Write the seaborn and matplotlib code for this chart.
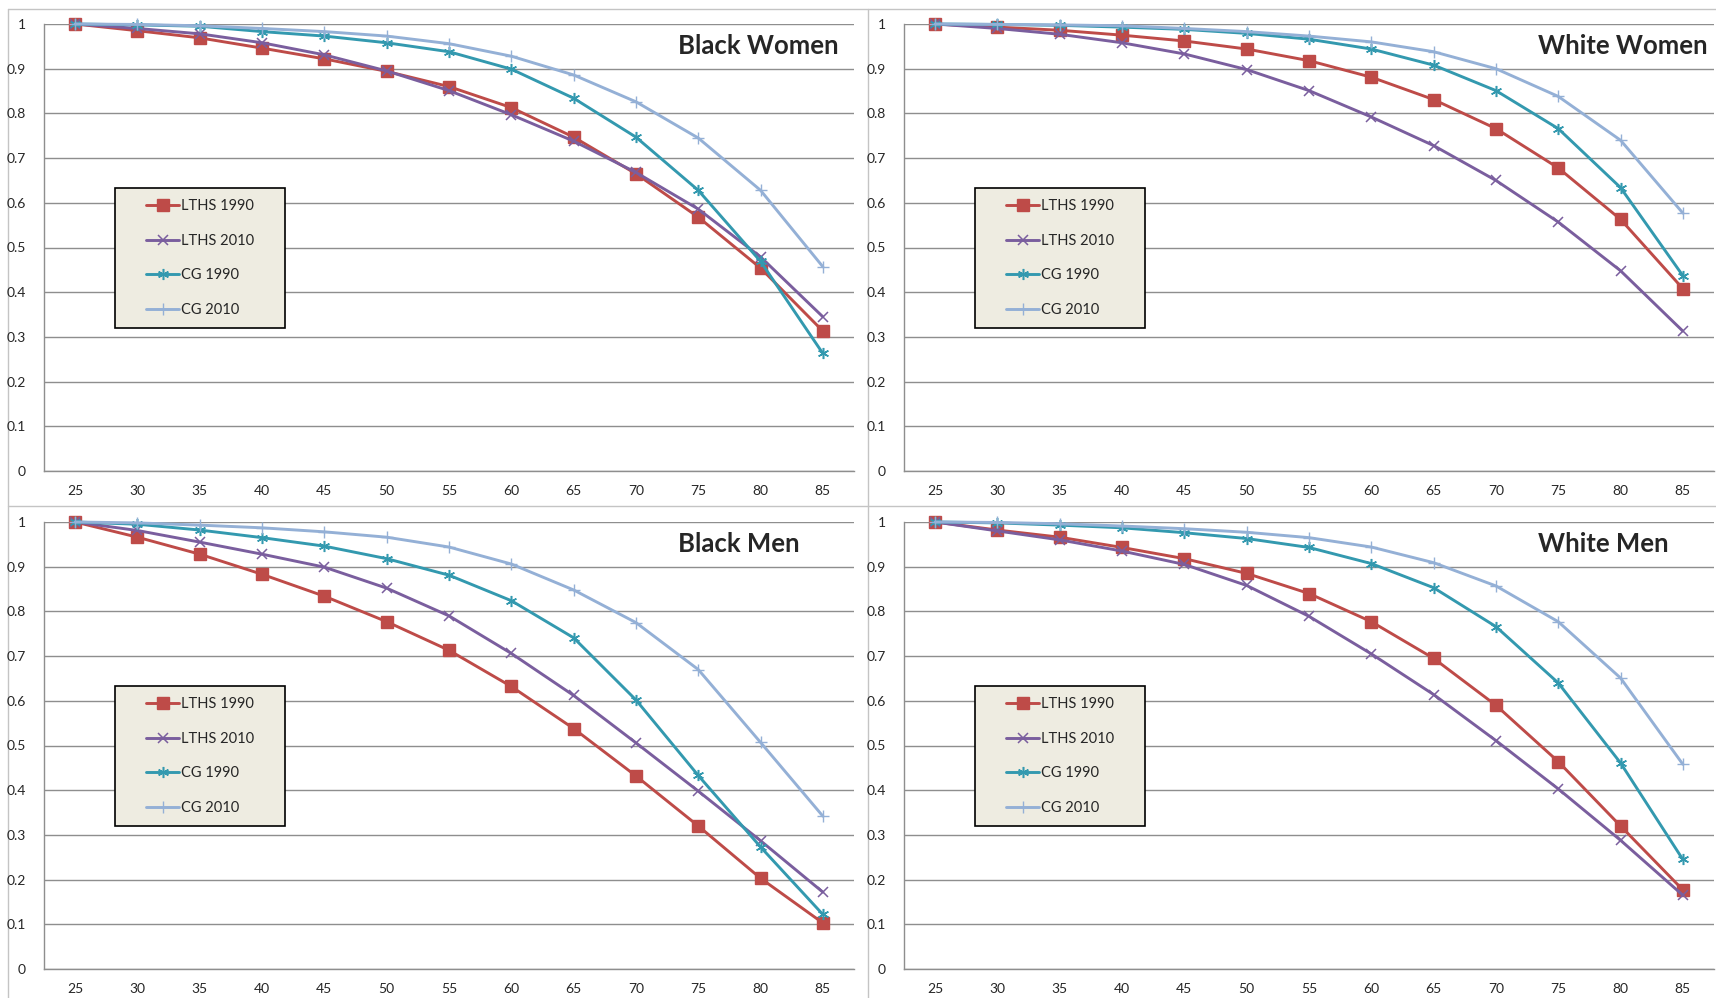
import numpy as np
import pandas as pd
import matplotlib
matplotlib.use("Agg")
import matplotlib.pyplot as plt
from matplotlib.patches import Rectangle
import seaborn as sns

# ages on the category axis
ages = [25, 30, 35, 40, 45, 50, 55, 60, 65, 70, 75, 80, 85]
series_names = ["LTHS 1990", "LTHS 2010", "CG 1990", "CG 2010"]
panel_titles = ["Black Women", "White Women", "Black Men", "White Men"]
y_ticks = [0, 0.1, 0.2, 0.3, 0.4, 0.5, 0.6, 0.7, 0.8, 0.9, 1.0]
y_tick_labels = ["0", "0.1", "0.2", "0.3", "0.4", "0.5", "0.6", "0.7", "0.8", "0.9", "1"]

# Black Women
bw_lths_1990 = [1.0, 0.985, 0.969, 0.946, 0.922, 0.894, 0.860, 0.813, 0.747, 0.665, 0.568, 0.454, 0.313]
bw_lths_2010 = [1.0, 0.990, 0.978, 0.958, 0.931, 0.895, 0.851, 0.797, 0.738, 0.668, 0.586, 0.479, 0.345]
bw_cg_1990 = [1.0, 0.998, 0.995, 0.983, 0.973, 0.958, 0.938, 0.899, 0.834, 0.747, 0.628, 0.469, 0.263]
bw_cg_2010 = [1.0, 0.999, 0.996, 0.990, 0.983, 0.973, 0.956, 0.928, 0.886, 0.826, 0.745, 0.628, 0.457]

# White Women
ww_lths_1990 = [1.0, 0.993, 0.986, 0.975, 0.962, 0.944, 0.918, 0.881, 0.831, 0.766, 0.678, 0.563, 0.408]
ww_lths_2010 = [1.0, 0.990, 0.977, 0.958, 0.933, 0.898, 0.851, 0.792, 0.728, 0.650, 0.557, 0.448, 0.313]
ww_cg_1990 = [1.0, 0.999, 0.997, 0.993, 0.988, 0.979, 0.966, 0.944, 0.908, 0.851, 0.766, 0.634, 0.437]
ww_cg_2010 = [1.0, 0.999, 0.998, 0.996, 0.990, 0.983, 0.973, 0.960, 0.938, 0.900, 0.838, 0.740, 0.577]

# Black Men
bm_lths_1990 = [1.0, 0.966, 0.928, 0.883, 0.834, 0.777, 0.713, 0.632, 0.538, 0.432, 0.320, 0.203, 0.103]
bm_lths_2010 = [1.0, 0.981, 0.955, 0.928, 0.899, 0.852, 0.790, 0.706, 0.612, 0.506, 0.398, 0.287, 0.172]
bm_cg_1990 = [1.0, 0.995, 0.982, 0.965, 0.946, 0.918, 0.881, 0.824, 0.741, 0.602, 0.433, 0.273, 0.122]
bm_cg_2010 = [1.0, 0.998, 0.993, 0.987, 0.978, 0.966, 0.944, 0.906, 0.848, 0.775, 0.670, 0.507, 0.342]

# White Men
wm_lths_1990 = [1.0, 0.982, 0.966, 0.943, 0.918, 0.885, 0.840, 0.777, 0.695, 0.590, 0.464, 0.320, 0.177]
wm_lths_2010 = [1.0, 0.980, 0.960, 0.935, 0.905, 0.858, 0.789, 0.705, 0.614, 0.511, 0.403, 0.288, 0.165]
wm_cg_1990 = [1.0, 0.998, 0.993, 0.987, 0.976, 0.963, 0.943, 0.907, 0.853, 0.766, 0.640, 0.461, 0.245]
wm_cg_2010 = [1.0, 0.999, 0.996, 0.991, 0.985, 0.977, 0.965, 0.944, 0.909, 0.857, 0.777, 0.651, 0.458]

panel_data = [
    [bw_lths_1990, bw_lths_2010, bw_cg_1990, bw_cg_2010],
    [ww_lths_1990, ww_lths_2010, ww_cg_1990, ww_cg_2010],
    [bm_lths_1990, bm_lths_2010, bm_cg_1990, bm_cg_2010],
    [wm_lths_1990, wm_lths_2010, wm_cg_1990, wm_cg_2010],
]

colors = {"LTHS 1990": "#BE4B48", "LTHS 2010": "#7A5E9E", "CG 1990": "#3399AF", "CG 2010": "#94B0D6"}
markers = {"LTHS 1990": "s", "LTHS 2010": "x", "CG 1990": (6, 2, 0), "CG 2010": "+"}
msizes = {"LTHS 1990": 8, "LTHS 2010": 7, "CG 1990": 8, "CG 2010": 8}
mews = {"LTHS 1990": 1, "LTHS 2010": 1.1, "CG 1990": 1.1, "CG 2010": 1.0}

sns.set_style("white")
plt.rcParams['font.family'] = ['Lato', 'DejaVu Sans']
plt.rcParams['font.size'] = 10

W, H = 1716, 998
fig = plt.figure(figsize=(W / 100, H / 100), dpi=100)

# background layer in pixel coordinates for chart borders
bg = fig.add_axes([0, 0, 1, 1], zorder=-1)
bg.set_xlim(0, W)
bg.set_ylim(H, 0)
bg.axis("off")
border = "#C4C4C4"
bg.plot([8, 8], [9, H], color=border, lw=1)
bg.plot([868, 868], [9, H], color=border, lw=1)
bg.plot([8, W], [9, 9], color=border, lw=1)
bg.plot([8, W], [506, 506], color=border, lw=1)

grid_c = "#8E8E8E"
offsets = [(0, 0), (860, 0), (0, 498), (860, 498)]
ax_l, ax_r, ax_t, ax_b = 44, 854, 24, 471

for (ox, oy), title, data in zip(offsets, panel_titles, panel_data):
    x0, x1 = ox + ax_l, ox + ax_r
    y0, y1 = oy + ax_t, oy + ax_b
    ax = fig.add_axes([x0 / W, 1 - y1 / H, (x1 - x0) / W, (y1 - y0) / H])

    df = pd.DataFrame({"age": ages * 4,
                       "survival": sum(data, []),
                       "series": np.repeat(series_names, len(ages))})
    for name in series_names:
        sub = df[df["series"] == name]
        sns.lineplot(data=sub, x="age", y="survival", ax=ax, color=colors[name],
                     lw=2.1, marker=markers[name], markersize=msizes[name],
                     markeredgewidth=mews[name], markeredgecolor=colors[name],
                     label=name, clip_on=False, zorder=3)

    ax.set_xlim(22.5, 87.5)
    ax.set_ylim(0, 1)
    ax.set_xticks(ages)
    ax.set_xticklabels([str(a) for a in ages])
    ax.set_xticks(np.arange(22.5, 88, 5), minor=True)
    ax.set_yticks(y_ticks)
    ax.set_yticklabels(y_tick_labels)
    ax.tick_params(axis="x", which="major", length=0, pad=10, labelsize=10)
    ax.tick_params(axis="x", which="minor", length=5, width=1, color=grid_c, direction="out")
    ax.tick_params(axis="y", length=5, width=1, color=grid_c, direction="out", pad=8, labelsize=10)
    ax.yaxis.grid(True, color=grid_c, lw=1)
    ax.set_axisbelow(True)
    for s in ["top", "right"]:
        ax.spines[s].set_visible(False)
    for s in ["left", "bottom"]:
        ax.spines[s].set_color(grid_c)
        ax.spines[s].set_linewidth(1)
    ax.set_xlabel("")
    ax.set_ylabel("")

    # legend box
    lx0, lx1, ly0, ly1 = 115, 285, 188, 328
    bw_, bh_ = x1 - x0, y1 - y0
    ax.add_patch(Rectangle(((lx0 - ax_l) / bw_, 1 - (ly1 - ax_t) / bh_),
                           (lx1 - lx0) / bw_, (ly1 - ly0) / bh_,
                           transform=ax.transAxes, facecolor="#EEECE1",
                           edgecolor="black", lw=1.2, zorder=6, clip_on=False))
    leg = ax.legend(loc="center",
                    bbox_to_anchor=(((lx0 + lx1) / 2 - ax_l) / bw_, 1 - ((ly0 + ly1) / 2 - ax_t) / bh_),
                    frameon=False, fontsize=10.5, handlelength=2.3, handletextpad=0.1,
                    labelspacing=1.42, borderpad=0, borderaxespad=0)
    leg.set_zorder(7)

    fig.text((ox + 678) / W, 1 - (oy + 46) / H, title, fontsize=18.5, fontweight="bold",
             ha="left", va="center", zorder=10)

fig.savefig("out.png", dpi=100)
